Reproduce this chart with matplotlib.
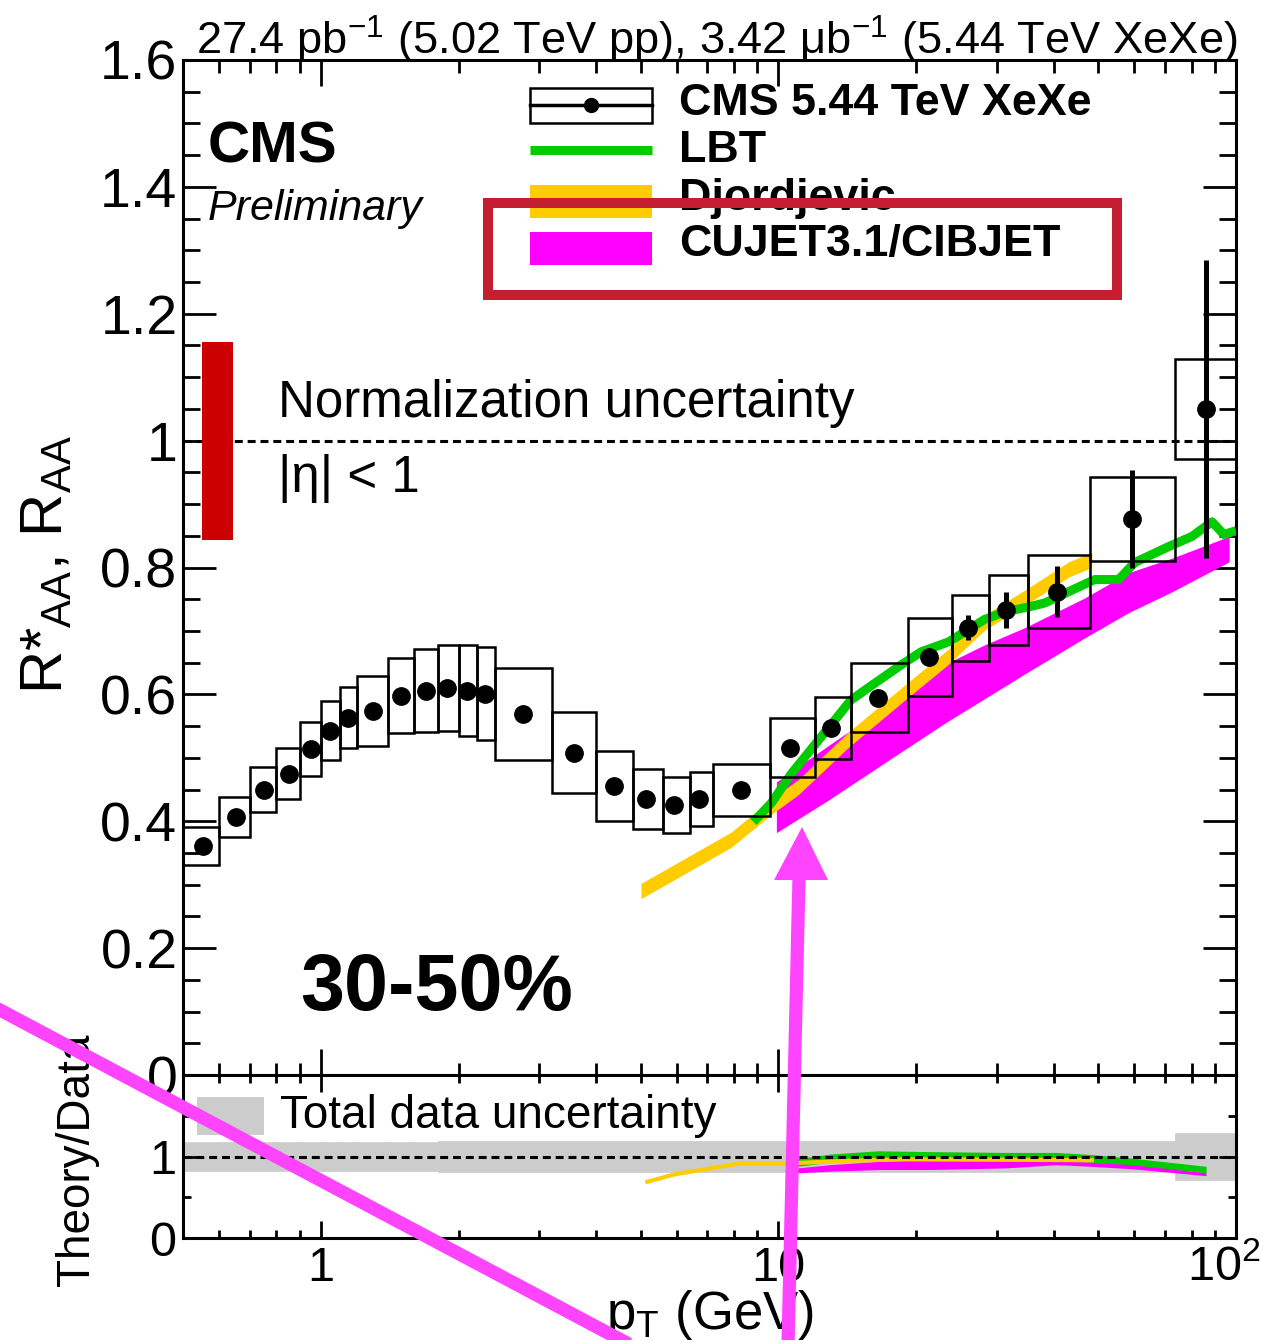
import numpy as np
import matplotlib.pyplot as plt
from matplotlib.patches import Rectangle, Polygon
from matplotlib.lines import Line2D
from matplotlib.ticker import FixedLocator, FixedFormatter, FuncFormatter, LogLocator, NullFormatter, MultipleLocator

plt.rcParams['font.family'] = ['Liberation Sans', 'DejaVu Sans']
plt.rcParams['mathtext.fontset'] = 'custom'
plt.rcParams['mathtext.rm'] = 'Liberation Sans'
plt.rcParams['mathtext.it'] = 'Liberation Sans:italic'
plt.rcParams['mathtext.bf'] = 'Liberation Sans:bold'

# --- CMS data (30-50%) ---
bin_edges = [0.5, 0.6, 0.7, 0.8, 0.9, 1.0, 1.1, 1.2, 1.4, 1.6, 1.8, 2.0, 2.2, 2.4, 3.2, 4.0,
             4.8, 5.6, 6.4, 7.2, 9.6, 12.0, 14.4, 19.2, 24.0, 28.8, 35.2, 48.0, 73.6, 103.6]
pt = [0.552, 0.652, 0.750, 0.851, 0.951, 1.05, 1.146, 1.30, 1.50, 1.70, 1.89, 2.09, 2.28, 2.77,
      3.58, 4.38, 5.14, 5.92, 6.72, 8.29, 10.6, 13.0, 16.5, 21.3, 25.9, 31.4, 40.6, 59.2, 86.0]
raa = [0.361, 0.407, 0.450, 0.475, 0.514, 0.543, 0.563, 0.574, 0.598, 0.606, 0.610, 0.606, 0.601,
       0.569, 0.508, 0.456, 0.435, 0.426, 0.435, 0.450, 0.516, 0.547, 0.595, 0.659, 0.705, 0.733,
       0.762, 0.877, 1.050]
stat = [0.003, 0.003, 0.003, 0.003, 0.003, 0.003, 0.003, 0.003, 0.003, 0.003, 0.003, 0.003, 0.003,
        0.003, 0.003, 0.003, 0.003, 0.003, 0.004, 0.004, 0.005, 0.006, 0.008, 0.010, 0.020, 0.028,
        0.040, 0.077, 0.235]
syst = [0.030, 0.032, 0.036, 0.040, 0.043, 0.047, 0.048, 0.055, 0.059, 0.065, 0.068, 0.072, 0.073,
        0.072, 0.064, 0.055, 0.048, 0.044, 0.043, 0.041, 0.046, 0.049, 0.054, 0.062, 0.052, 0.055,
        0.057, 0.066, 0.079]
tot_unc = [0.18, 0.18, 0.18, 0.18, 0.18, 0.18, 0.18, 0.18, 0.18, 0.18, 0.185, 0.185, 0.185, 0.185,
           0.19, 0.19, 0.19, 0.19, 0.19, 0.19, 0.19, 0.19, 0.19, 0.185, 0.185, 0.19, 0.19, 0.19, 0.29]
norm_unc = 0.156

# --- models ---
lbt_pt = [8.82, 9.66, 10.7, 11.9, 13.3, 14.4, 16.2, 18.6, 20.5, 23.6, 28.2, 31.2, 35.3, 38.2,
          43.1, 49.1, 55.4, 60.1, 71.3, 80.1, 88.6, 94.1, 100.0]
lbt_raa = [0.399, 0.429, 0.476, 0.517, 0.560, 0.591, 0.617, 0.647, 0.667, 0.683, 0.718, 0.730,
           0.738, 0.744, 0.762, 0.781, 0.781, 0.808, 0.833, 0.849, 0.872, 0.852, 0.858]
djo_pt = [5.01, 7.89, 9.66, 11.06, 14.2, 18.9, 23.5, 28.2, 34.5, 43.1, 48.4]
djo_raa = [0.290, 0.371, 0.423, 0.454, 0.528, 0.603, 0.659, 0.713, 0.752, 0.797, 0.812]
djo_width = 0.012
cujet_pt = [9.90, 12.9, 17.9, 23.5, 28.2, 34.5, 46.7, 58.3, 72.6, 96.6]
cujet_hi = [0.462, 0.520, 0.590, 0.650, 0.678, 0.705, 0.752, 0.792, 0.815, 0.849]
cujet_lo = [0.382, 0.434, 0.502, 0.558, 0.593, 0.632, 0.689, 0.729, 0.762, 0.809]

# --- theory / data ---
djo_r_pt = [5.17, 5.92, 8.22, 10.5, 14.4, 18.9, 30.6, 48.4]
djo_r = [0.69, 0.78, 0.915, 0.915, 0.95, 0.965, 0.96, 0.955]
lbt_r_pt = [11.0, 13.0, 16.5, 21.3, 31.4, 40.6, 48.0, 59.2, 86.0]
lbt_r_lo = [0.88, 0.93, 0.985, 0.975, 0.96, 0.95, 0.93, 0.89, 0.80]
lbt_r_hi = [0.975, 1.03, 1.07, 1.06, 1.05, 1.05, 1.025, 0.98, 0.88]
cujet_r_pt = [11.0, 13.0, 16.5, 21.3, 31.4, 40.6, 48.0, 59.2, 86.0]
cujet_r_lo = [0.80, 0.82, 0.84, 0.84, 0.86, 0.90, 0.88, 0.85, 0.765]
cujet_r_hi = [0.86, 0.90, 0.94, 0.96, 0.95, 0.95, 0.93, 0.90, 0.80]

GREEN = '#00cc00'
ORANGE = '#ffcc00'
MAGENTA = '#ff00ff'
PINK = '#ff44ff'

W, H = 1263, 1340
fig = plt.figure(figsize=(W / 100, H / 100), dpi=100)
ax = fig.add_axes([183 / W, 1 - 1075 / H, 1053 / W, 1015 / H])
ax2 = fig.add_axes([183 / W, 1 - 1238 / H, 1053 / W, 163 / H], sharex=ax)

edges = np.array(bin_edges)
lo_e, hi_e = edges[:-1], edges[1:]
raa_a, syst_a = np.array(raa), np.array(syst)

# main panel
ax.fill_between(cujet_pt, cujet_lo, cujet_hi, color=MAGENTA, lw=0, zorder=2)
ax.fill_between(djo_pt, np.array(djo_raa) - djo_width, np.array(djo_raa) + djo_width,
                color=ORANGE, lw=0, zorder=3)
ax.plot(lbt_pt, lbt_raa, color=GREEN, lw=6.5, solid_capstyle='butt', zorder=4)
ax.bar(lo_e, 2 * syst_a, width=hi_e - lo_e, bottom=raa_a - syst_a, align='edge',
       fill=False, edgecolor='black', lw=1.8, zorder=5)
ax.errorbar(pt, raa, yerr=stat, fmt='o', color='black', ms=12.5, elinewidth=3.6,
            capsize=0, zorder=6)
ax.axhline(1, color='black', lw=2.2, ls=(0, (2.6, 1.6)), zorder=4)
ax.add_patch(Rectangle((0.018, 1 - norm_unc), 0.0295, 2 * norm_unc,
                       transform=ax.get_yaxis_transform(), color='#cc0000', lw=0, zorder=6))

ax.set_xscale('log')
ax.set_xlim(0.5, 100)
ax.set_ylim(0, 1.6)
ax.yaxis.set_major_locator(MultipleLocator(0.2))
ax.yaxis.set_minor_locator(MultipleLocator(0.05))
ax.yaxis.set_major_formatter(FuncFormatter(lambda v, p: f'{v:g}'))
ax.xaxis.set_major_locator(FixedLocator([1, 10, 100]))
ax.xaxis.set_minor_locator(LogLocator(subs=np.arange(2, 10)))
ax.xaxis.set_minor_formatter(NullFormatter())
ax.tick_params(axis='both', which='both', direction='in', top=True, right=True,
               labelbottom=False, width=2.0)
ax.tick_params(axis='y', which='major', length=24, labelsize=40, pad=4)
ax.tick_params(axis='y', which='minor', length=12)
ax.tick_params(axis='x', which='major', length=19)
ax.tick_params(axis='x', which='minor', length=9)
for s in ax.spines.values():
    s.set_linewidth(2.2)

# texts in main panel
ax.text(0.0237, 0.8995, 'CMS', transform=ax.transAxes, fontsize=42, fontweight='bold', va='baseline')
ax.text(0.0237, 0.842, 'Preliminary', transform=ax.transAxes, fontsize=31, style='italic', va='baseline')
ax.text(0.0902, 0.648, 'Normalization uncertainty', transform=ax.transAxes, fontsize=36.8, va='baseline')
ax.text(0.0902, 0.574, '|η| < 1', transform=ax.transAxes, fontsize=36.8, va='baseline')
ax.text(0.111, 0.064, '30-50%', transform=ax.transAxes, fontsize=57, fontweight='bold', va='baseline')
ax.text(1.001, 1.005, '27.4 pb$^{-1}$ (5.02 TeV pp), 3.42 μb$^{-1}$ (5.44 TeV XeXe)',
        transform=ax.transAxes, fontsize=32.6, ha='right', va='baseline')

# legend (drawn by hand)
tr = ax.transAxes
ax.add_patch(Rectangle((0.3295, 0.938), 0.1159, 0.034, transform=tr, fill=False,
                       edgecolor='black', lw=1.8, zorder=7))
ax.add_line(Line2D([0.3295, 0.4454], [0.9557, 0.9557], transform=tr, color='black', lw=2.5, zorder=7))
ax.plot([0.3875], [0.9557], 'o', color='black', ms=10, transform=tr, zorder=8)
ax.add_line(Line2D([0.3295, 0.4454], [0.9113, 0.9113], transform=tr, color=GREEN, lw=6.5,
                   solid_capstyle='butt', zorder=7))
ax.add_patch(Rectangle((0.3295, 0.8443), 0.1159, 0.0325, transform=tr, color=ORANGE, lw=0, zorder=7))
ax.add_patch(Rectangle((0.3295, 0.798), 0.1159, 0.0325, transform=tr, color=MAGENTA, lw=0, zorder=7))
for yy, lab in zip([0.9576, 0.9113, 0.864, 0.8187],
                   ['CMS 5.44 TeV XeXe', 'LBT', 'Djordjevic', 'CUJET3.1/CIBJET']):
    ax.text(0.471, yy, lab, transform=tr, fontsize=32.3, fontweight='bold', va='center', zorder=7)

# ratio panel
tot_a = np.array(tot_unc)
ax2.bar(lo_e, 2 * tot_a, width=hi_e - lo_e, bottom=1 - tot_a, align='edge',
        color='#cccccc', edgecolor='#cccccc', lw=0.5, zorder=1)
ax2.plot(djo_r_pt, djo_r, color=ORANGE, lw=3, zorder=3)
ax2.fill_between(lbt_r_pt, lbt_r_lo, lbt_r_hi, color=GREEN, lw=0, zorder=2)
ax2.fill_between(cujet_r_pt, cujet_r_lo, cujet_r_hi, color=MAGENTA, lw=0, zorder=2.5)
ax2.axhline(1, color='black', lw=2.2, ls=(0, (2.6, 1.6)), zorder=5)
ax2.add_patch(Rectangle((0.0133, 0.632), 0.0636, 0.233, transform=ax2.transAxes,
                        color='#cccccc', lw=0, zorder=6))
ax2.text(0.092, 0.675, 'Total data uncertainty', transform=ax2.transAxes, fontsize=33,
         va='baseline', zorder=6)

ax2.set_ylim(0, 2)
ax2.set_yticks([0, 1])
ax2.yaxis.set_major_formatter(FuncFormatter(lambda v, p: f'{v:g}'))
ax2.yaxis.set_minor_locator(FixedLocator([0.5, 1.5]))
ax2.xaxis.set_major_locator(FixedLocator([1, 10, 100]))
ax2.xaxis.set_major_formatter(FixedFormatter(['1', '10', '']))
ax2.xaxis.set_minor_locator(LogLocator(subs=np.arange(2, 10)))
ax2.xaxis.set_minor_formatter(NullFormatter())
ax2.tick_params(axis='both', which='both', direction='in', top=True, right=True, width=2.0)
ax2.tick_params(axis='both', which='major', length=12, labelsize=35)
ax2.tick_params(axis='both', which='minor', length=6)
ax2.tick_params(axis='x', which='major', pad=6)
ax2.tick_params(axis='y', which='major', pad=5)
for s in ax2.spines.values():
    s.set_linewidth(2.2)
# last x tick label, shifted left so it stays inside the figure as in the reference
fig.text(1261 / W, 1 - 1280 / H, '10$^{2}$', fontsize=35, ha='right', va='baseline')

# axis titles
fig.text(710 / W, 1 - 1329 / H, 'p$_{\\mathregular{T}}$ (GeV)', fontsize=38, ha='center', va='baseline')
fig.text(47 / W, 1 - 565 / H, 'R*$_{\\mathregular{AA}}$, R$_{\\mathregular{AA}}$', fontsize=43,
         rotation=90, ha='center', va='center')
fig.text(77 / W, 1 - 1160 / H, 'Theory/Data', fontsize=33, rotation=90, ha='center', va='center')

# overlay annotations (red box around CUJET entry, pink strokes)
fig.add_artist(Rectangle((488 / W, 1 - 295 / H), (1117 - 488) / W, (295 - 203) / H,
                         transform=fig.transFigure, fill=False, edgecolor='#c41e30', lw=7.2,
                         zorder=20))
fig.add_artist(Line2D([0, 640 / W], [1 - 1010 / H, 1 - 1350 / H], transform=fig.transFigure,
                      color=PINK, lw=9.5, zorder=20))
fig.add_artist(Line2D([788 / W, 799 / W], [1 - 1345 / H, 1 - 878 / H], transform=fig.transFigure,
                      color=PINK, lw=9.5, solid_capstyle='butt', zorder=20))
fig.add_artist(Polygon([(774 / W, 1 - 880 / H), (828 / W, 1 - 880 / H), (802 / W, 1 - 827 / H)],
                       closed=True, transform=fig.transFigure, color=PINK, lw=0, zorder=20))

fig.savefig('out.png', dpi=100)
